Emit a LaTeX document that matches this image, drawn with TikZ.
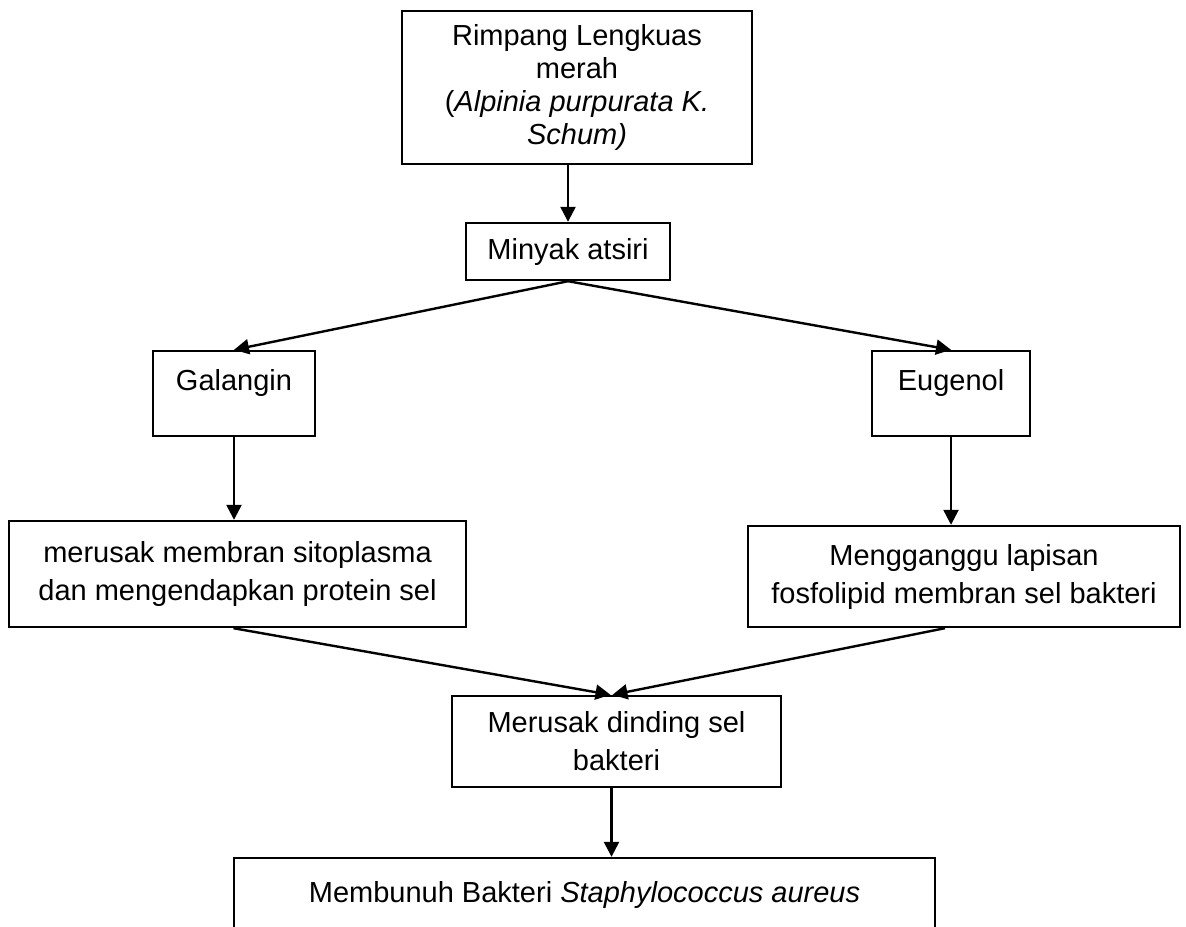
\documentclass[tikz,border=0pt]{standalone}
\usepackage{fontspec}
\setmainfont{Liberation Sans}
\usetikzlibrary{arrows.meta}
\newcommand{\garis}{black}
\tikzset{every path/.style={line width=1.2 pt}}
\tikzset{kotak/.style={draw=\garis, inner sep=0pt, align=center, font=\fontsize{14.5}{19}\selectfont}}
\tikzset{kotakatas/.style={kotak, text height=10pt, text depth=13.5pt}}
\tikzset{panah/.style={\garis, -{Triangle[length=7.5pt,width=7.5pt]}}}

\begin{document}
\begin{tikzpicture}[x=0.5pt,y=-0.5pt]
\useasboundingbox (0,0) rectangle (1186,926);
\node[kotak, minimum width=175pt, minimum height=76.5pt, font=\fontsize{14.5}{16.5}\selectfont] (rimpang) at (577,87.5) {Rimpang Lengkuas\\merah\\(\textit{Alpinia purpurata K.}\\\textit{Schum)}};
\node[kotak, minimum width=102pt, minimum height=28.5pt] (minyak) at (568,251.5) {Minyak atsiri};
\node[kotakatas, minimum width=81pt, minimum height=42.5pt] (galangin) at (234,393.5) {Galangin};
\node[kotakatas, minimum width=79pt, minimum height=42.5pt] (eugenol) at (951,393.5) {Eugenol};
\node[kotak, minimum width=228.5pt, minimum height=53pt] (sitoplasma) at (237.5,574) {merusak membran sitoplasma\\dan mengendapkan protein sel};
\node[kotak, minimum width=216pt, minimum height=50.5pt] (fosfolipid) at (964,576.5) {Mengganggu lapisan\\fosfolipid membran sel bakteri};
\node[kotak, minimum width=164.5pt, minimum height=45.5pt] (dinding) at (616.5,741.5) {Merusak dinding sel\\bakteri};
\node[kotak, minimum width=350.5pt, minimum height=37pt] (bunuh) at (584.5,895) {Membunuh Bakteri \textit{Staphylococcus aureus}};
\draw[panah] (minyak.north |- rimpang.south) -- (minyak.north);
\draw[panah] (minyak.south) -- (galangin.north);
\draw[panah] (minyak.south) -- (eugenol.north);
\draw[panah] (galangin.south) -- (galangin.south |- sitoplasma.north);
\draw[panah] (eugenol.south) -- (eugenol.south |- fosfolipid.north);
\draw[panah] ([xshift=-2pt]sitoplasma.south) -- ([xshift=-3pt]dinding.north);
\draw[panah] ([xshift=-9.5pt]fosfolipid.south) -- ([xshift=-2pt]dinding.north);
\draw[panah] ([xshift=-2.5pt]dinding.south) -- ([xshift=-2.5pt]dinding.south |- bunuh.north);
\end{tikzpicture}
\end{document}
